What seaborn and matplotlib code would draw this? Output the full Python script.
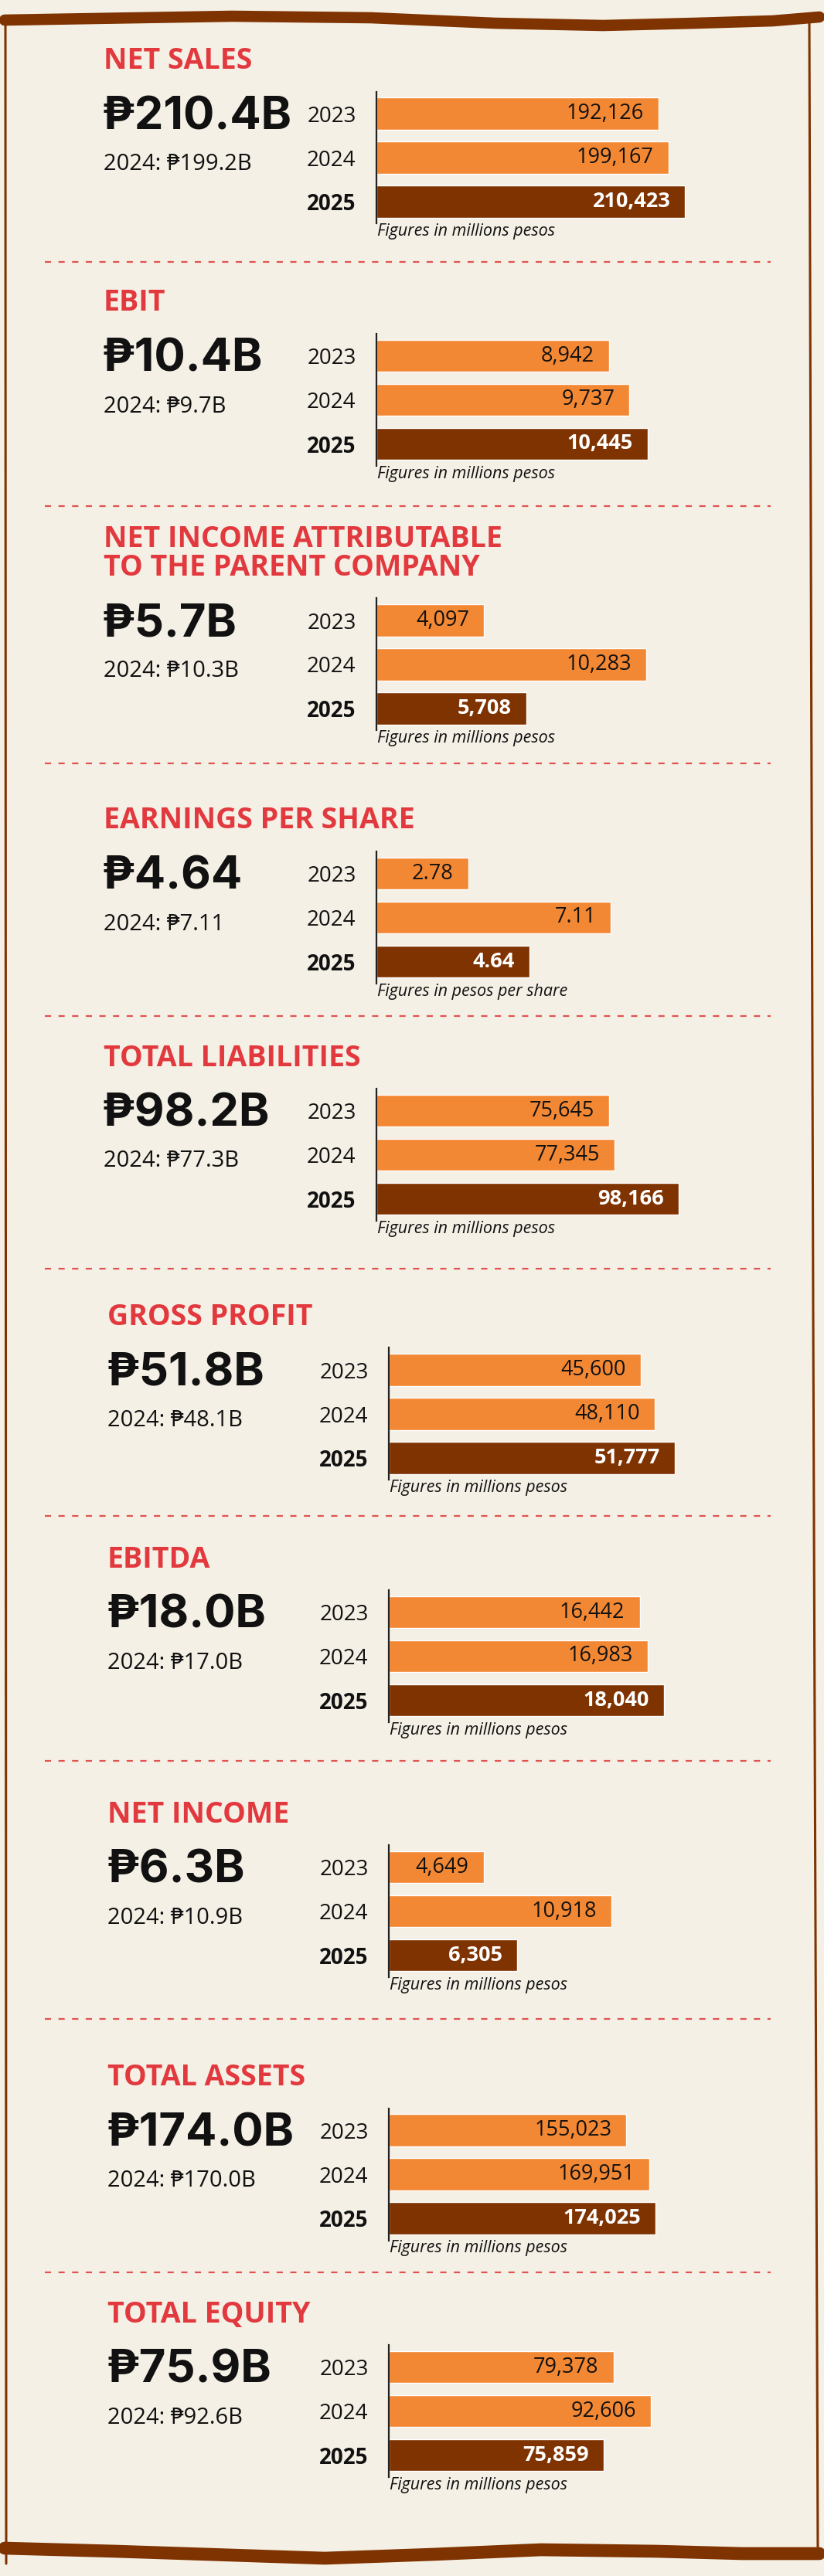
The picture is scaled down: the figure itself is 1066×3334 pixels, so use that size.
import numpy as np
import pandas as pd
import matplotlib
matplotlib.use("Agg")
import matplotlib.pyplot as plt
import seaborn as sns
from matplotlib.lines import Line2D

# ---------------- data ----------------
titles = ["NET SALES", "EBIT", "NET INCOME ATTRIBUTABLE\nTO THE PARENT COMPANY",
          "EARNINGS PER SHARE", "TOTAL LIABILITIES", "GROSS PROFIT", "EBITDA",
          "NET INCOME", "TOTAL ASSETS", "TOTAL EQUITY"]
headlines = ["₱210.4B", "₱10.4B", "₱5.7B", "₱4.64", "₱98.2B",
             "₱51.8B", "₱18.0B", "₱6.3B", "₱174.0B", "₱75.9B"]
prior_texts = ["2024: ₱199.2B", "2024: ₱9.7B", "2024: ₱10.3B", "2024: ₱7.11",
               "2024: ₱77.3B", "2024: ₱48.1B", "2024: ₱17.0B", "2024: ₱10.9B",
               "2024: ₱170.0B", "2024: ₱92.6B"]
years = ["2023", "2024", "2025"]
net_sales = [192126, 199167, 210423]
ebit = [8942, 9737, 10445]
ni_parent = [4097, 10283, 5708]
eps = [2.78, 7.11, 4.64]
total_liabilities = [75645, 77345, 98166]
gross_profit = [45600, 48110, 51777]
ebitda = [16442, 16983, 18040]
net_income = [4649, 10918, 6305]
total_assets = [155023, 169951, 174025]
total_equity = [79378, 92606, 75859]
series = [net_sales, ebit, ni_parent, eps, total_liabilities, gross_profit,
          ebitda, net_income, total_assets, total_equity]
captions = ["Figures in millions pesos"] * 3 + ["Figures in pesos per share"] + \
           ["Figures in millions pesos"] * 6
axis_max = [253000, 14280, 14140, 11.26, 120500, 67170, 24320, 18200, 242100, 131100]

# ---------------- layout / style ----------------
W, H = 1066, 3334
BG = "#F5F0E6"
ORANGE = "#F38834"
BROWN = "#7F3300"
RED = "#E2393E"
DASH = "#E0534F"
INK = "#111111"
bar_top_centers = [147, 460.5, 803, 1130.5, 1437.5, 1773, 2086.5, 2416.5, 2757, 3063.5]
divider_ys = [339, 655, 988, 1315, 1642, 1962, 2279, 2613, 2941]
FB = ["Noto Sans", "DejaVu Sans"]
F_TEXT = ["Open Sans"] + FB
F_BIG = ["Inter"] + FB

sns.set_theme(style="white")
plt.rcParams["font.family"] = F_TEXT
plt.rcParams["lines.scale_dashes"] = False

fig = plt.figure(figsize=(W / 100, H / 100), dpi=100)
fig.patch.set_facecolor(BG)


def fx(x):
    return x / W


def fy(y):
    return 1 - y / H


# decorative frame
def frame_line(xs, ys, lw, **kw):
    fig.add_artist(Line2D([fx(x) for x in xs], [fy(y) for y in ys], color=BROWN,
                          lw=lw, solid_capstyle="round", **kw))

frame_line([7, 7.5, 8], [28, 1700, 3318], 2.2)
frame_line([1047, 1052, 1058], [28, 1700, 3300], 2.2)
frame_line([6, 120, 300, 480, 640, 780, 900, 1000, 1060],
           [26, 24, 21, 23, 30, 33, 30, 27, 22], 10.5)
frame_line([6, 150, 300, 420, 560, 700, 850, 960, 1060],
           [3298, 3302, 3307, 3311, 3306, 3300, 3302, 3305, 3305], 12)

for yd in divider_ys:
    fig.add_artist(Line2D([fx(58), fx(997)], [fy(yd), fy(yd)], color=DASH, lw=1.6,
                          linestyle=(0, (5.8, 6.9))))

AX_W = 480
for i in range(10):
    c = bar_top_centers[i]
    axis_x = 487 if i < 5 else 503
    left_x = 134 if i < 5 else 139

    # titles
    lines = titles[i].split("\n")
    for k, line in enumerate(reversed(lines)):
        fig.text(fx(left_x), fy(c - 58 - 37 * k), line, color=RED, fontsize=27,
                 fontweight="bold", family=F_TEXT, va="baseline", ha="left")
    fig.text(fx(left_x - 2), fy(c + 20), headlines[i], color=INK, fontsize=43,
             fontweight="bold", family=F_BIG, va="baseline", ha="left")
    fig.text(fx(left_x), fy(c + 73), prior_texts[i], color=INK, fontsize=21,
             family=F_TEXT, va="baseline", ha="left")

    # bar chart
    top = c - 28.5
    ax = fig.add_axes([fx(axis_x), fy(top + 171), AX_W / W, 171 / H])
    df = pd.DataFrame({"year": years, "value": series[i]})
    sns.barplot(data=df, y="year", x="value", hue="year",
                palette=[ORANGE, ORANGE, BROWN], legend=False, orient="h",
                width=0.72, saturation=1, ax=ax)
    ax.set_xlim(0, axis_max[i])
    ax.set_ylim(2.5, -0.5)
    ax.set_facecolor("none")
    for s in ["top", "right", "bottom"]:
        ax.spines[s].set_visible(False)
    ax.spines["left"].set_color("#222222")
    ax.spines["left"].set_linewidth(1.6)
    ax.set_xticks([])
    ax.set_xlabel("")
    ax.set_ylabel("")
    ax.tick_params(axis="y", length=0, pad=19)
    ax.set_yticks(range(3))
    ax.set_yticklabels(years)
    for j, t in enumerate(ax.get_yticklabels()):
        t.set_fontsize(20)
        t.set_color(INK)
        t.set_family(F_TEXT)
        if j == 2:
            t.set_fontweight("bold")
    for j, v in enumerate(series[i]):
        lab = f"{v:.2f}" if isinstance(v, float) else f"{v:,}"
        ax.annotate(lab, xy=(v, j), xytext=(-19, 0), textcoords="offset pixels",
                    ha="right", va="center", fontsize=19.5, family=F_TEXT,
                    color="white" if j == 2 else INK,
                    fontweight="bold" if j == 2 else "normal")

    fig.text(fx(axis_x + 1), fy(c + 158), captions[i], color=INK, fontsize=15.5,
             style="italic", family=F_TEXT, va="baseline", ha="left")

fig.savefig("out.png", dpi=100, facecolor=BG)
